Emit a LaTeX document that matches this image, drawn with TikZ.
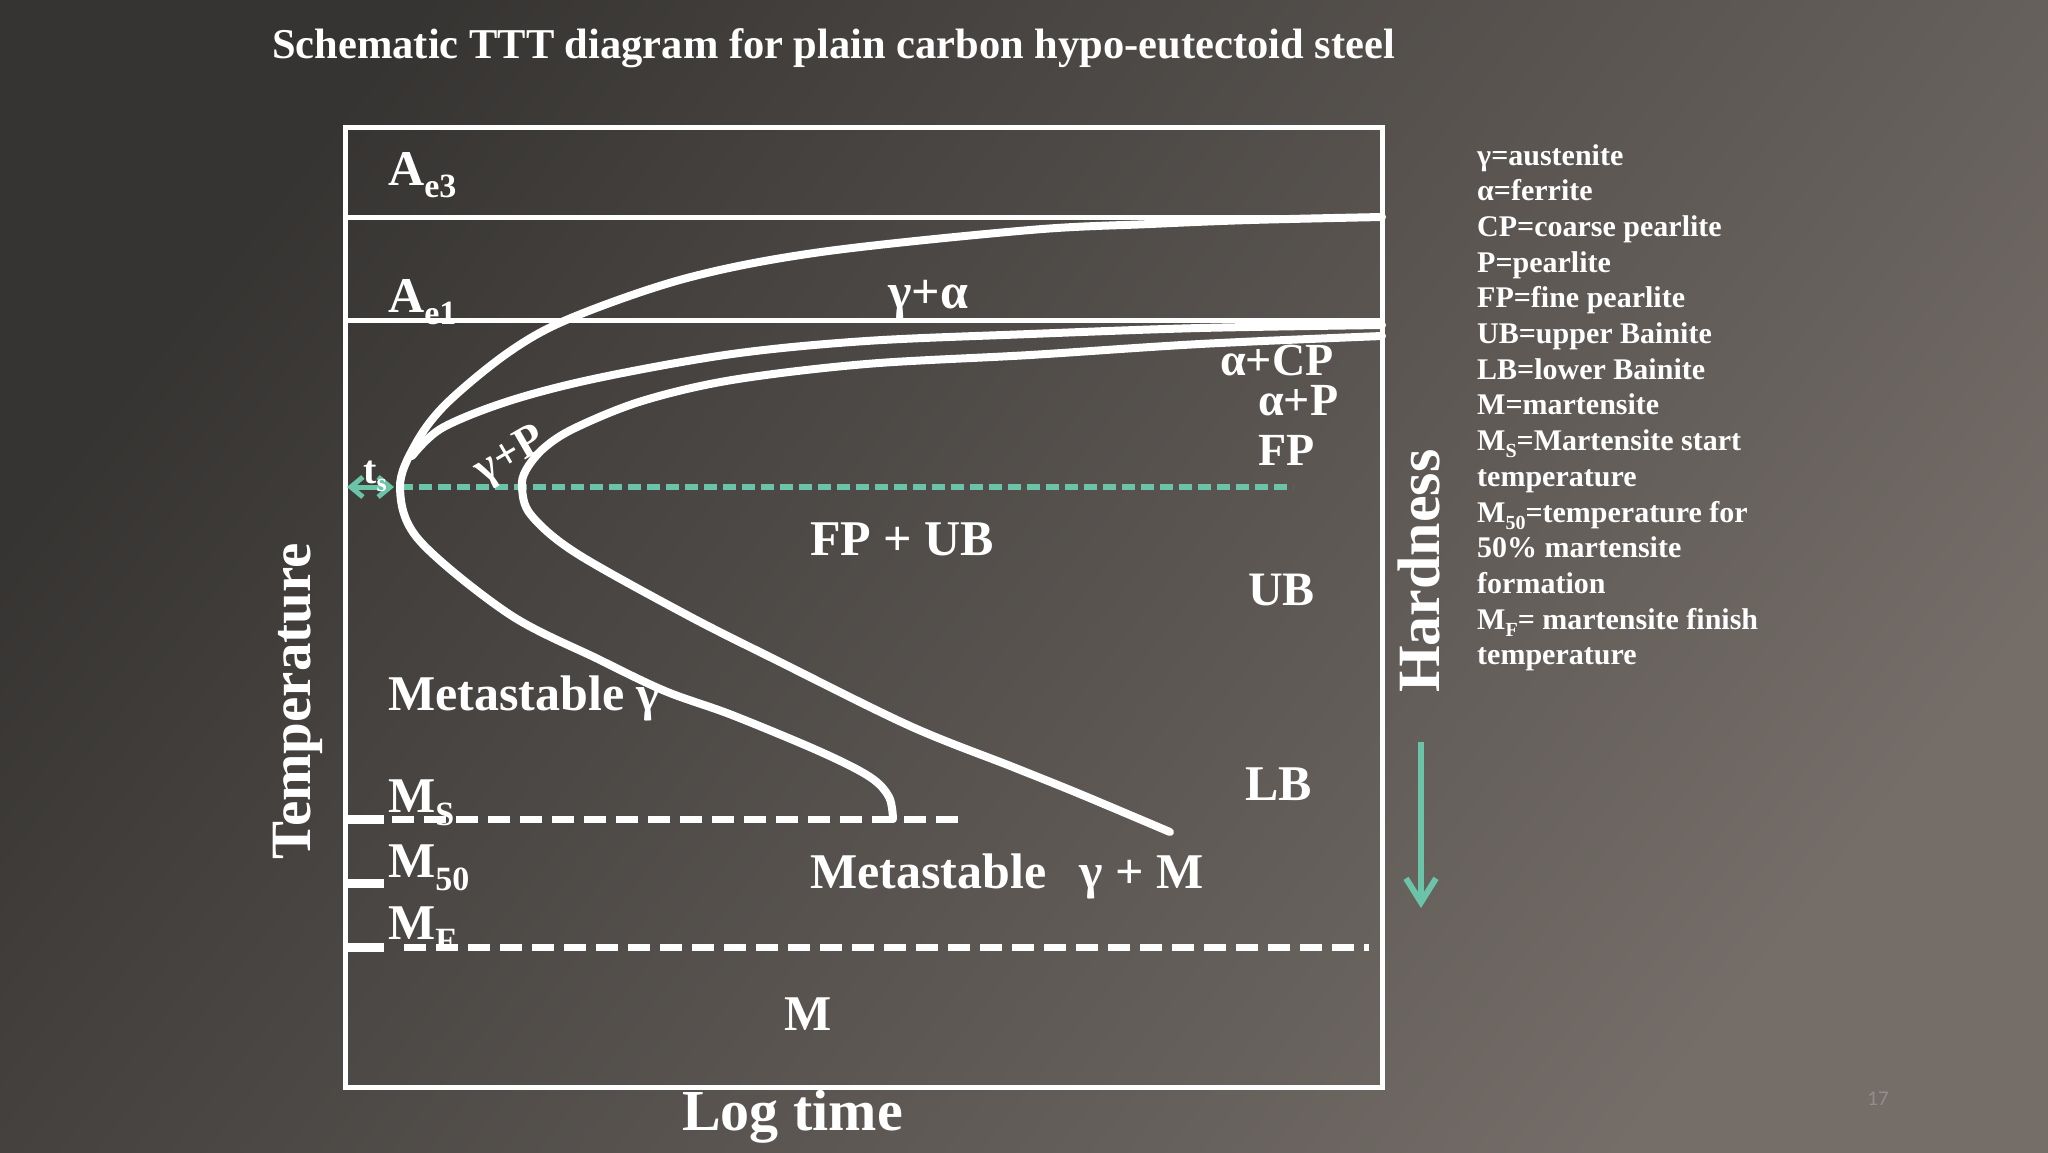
\documentclass[tikz,border=0pt]{standalone}
\usepackage{fontspec}
\setmainfont{Liberation Serif}
\newfontfamily\pgnumfont{Carlito}
\usetikzlibrary{arrows.meta}
\definecolor{bgdark}{HTML}{363432}
\definecolor{bglight}{HTML}{746D68}
\definecolor{tealc}{HTML}{6CC4A8}
\definecolor{pgcol}{HTML}{948E8A}
\newcommand{\fsz}[1]{\fontsize{#1}{#1}\selectfont}
\newcommand{\lowsub}[3]{\raisebox{-#2}{\fsz{#3}#1}}
\tikzset{
  lbl/.style={text=white, font={\bfseries\fsz{50}}, inner sep=0pt, anchor=base west},
  leg/.style={text=white, font={\bfseries\fsz{30}}, inner sep=0pt, anchor=base west},
  curve/.style={white, line width=8pt, line cap=round, line join=round},
  frame/.style={white, line width=5pt},
  tick/.style={white, line width=9pt},
  wdash/.style={white, line width=7pt, dash pattern=on 22pt off 10pt},
  tdash/.style={tealc, line width=5.5pt, dash pattern=on 13pt off 6pt},
}
\begin{document}
\begin{tikzpicture}[x=1pt,y=-1pt]
\useasboundingbox (0,0) rectangle (2048,1152);
\shade[top color=bgdark, bottom color=bglight, shading angle=52] (0,0) rectangle (2048,1152);

% frame and equilibrium lines
\draw[frame] (345,127) rectangle (1382,1087);
\draw[frame] (345,217) -- (1382,217);
\draw[frame] (345,320) -- (1382,320);

% martensite lines
\draw[tick] (345,819) -- (384,819);
\draw[tick] (345,883) -- (384,883);
\draw[tick] (345,947) -- (384,947);
\draw[wdash] (392,819) -- (960,819);
\draw[wdash] (404,947) -- (1369,947);

% teal dashed line and double arrow
\coordinate (ta) at (347,487);
\coordinate (tb) at (394,487);
\coordinate (tc) at (400,487);
\coordinate (td) at (1293,487);
\draw[tdash] (tc) -- (td);
\draw[tealc, line width=5pt, {Straight Barb[length=12pt,width=20pt]}-{Straight Barb[length=12pt,width=20pt]}] (ta) -- (tb);

% curves
\draw[curve] plot[smooth, tension=0.55] coordinates {(1382,217) (1250,220) (1150,224) (1030,230) (821,252) (687,278) (571,318) (509,352) (446,404) (415,445) (400,488) (419,540) (509,614) (598,659) (665,691) (732,715) (821,752) (870,777) (889,797) (893,819)};
\draw[curve] plot[smooth, tension=0.55] coordinates {(1382,325) (1200,328) (1030,334) (866,341) (732,354) (598,378) (509,401) (442,428) (412,456)};
\draw[curve] plot[smooth, tension=0.55] coordinates {(1382,336) (1200,344) (1030,355) (866,364) (732,380) (642,401) (575,428) (544,448) (526,470) (522,488) (531,515) (576,553) (687,615) (776,660) (910,726) (1013,767) (1080,794) (1170,832)};

% hardness arrow
\coordinate (h1) at (1421,742);
\coordinate (h2) at (1421,908);
\draw[tealc, line width=6pt, -{Straight Barb[length=24pt,width=30pt]}] (h1) -- (h2);

% title
\node[lbl, font={\bfseries\fsz{42.5}}] (title) at (272,58) {Schematic TTT diagram for plain carbon hypo-eutectoid steel};

% diagram labels
\node[lbl] (ae3) at (388,185) {A\lowsub{e3}{12pt}{34}};
\node[lbl] (ae1) at (388,312) {A\lowsub{e1}{12pt}{34}};
\node[lbl] (ga) at (888,308) {γ+α};
\node[lbl, font={\bfseries\fsz{46}}] (acp) at (1220,375) {α+CP};
\node[lbl, font={\bfseries\fsz{46}}] (ap) at (1258,415) {α+P};
\node[lbl, font={\bfseries\fsz{46}}] (fp) at (1258,465) {FP};
\node[lbl] (fpub) at (810,555) {FP + UB};
\node[lbl, font={\bfseries\fsz{48}}] (ub) at (1248,605) {UB};
\node[lbl] (mg) at (388,710) {Metastable γ};
\node[lbl] (lb) at (1245,800) {LB};
\node[lbl] (ms) at (388,812) {M\lowsub{S}{13pt}{34}};
\node[lbl] (m50) at (388,877) {M\lowsub{50}{13pt}{34}};
\node[lbl] (mf) at (388,939) {M\lowsub{F}{12pt}{34}};
\node[lbl] (mgm) at (810,888) {Metastable\ \ \,γ + M};
\node[lbl] (mm) at (784,1030) {M};
\node[lbl, font={\bfseries\fsz{40}}] (ts) at (363,483) {t\lowsub{s}{8pt}{26}};
\node[text=white, font={\bfseries\fsz{45}}, inner sep=0pt, rotate=30] (gp) at (511,457) {γ+P};

% axis labels
\node[lbl, font={\bfseries\fsz{58}}] (logt) at (682,1130) {Log time};
\node[lbl, font={\bfseries\fsz{57}}, rotate=90] (temp) at (310,860) {Temperature};
\node[lbl, font={\bfseries\fsz{60}}, rotate=90] (hard) at (1439,693) {Hardness};

% legend
\node[leg] (l1) at (1477,165.0) {γ=austenite};
\node[leg] (l2) at (1477,200.7) {α=ferrite};
\node[leg] (l3) at (1477,236.4) {CP=coarse pearlite};
\node[leg] (l4) at (1477,272.1) {P=pearlite};
\node[leg] (l5) at (1477,307.8) {FP=fine pearlite};
\node[leg] (l6) at (1477,343.5) {UB=upper Bainite};
\node[leg] (l7) at (1477,379.2) {LB=lower Bainite};
\node[leg] (l8) at (1477,414.9) {M=martensite};
\node[leg] (l9) at (1477,450.6) {M\lowsub{S}{7pt}{20}=Martensite start};
\node[leg] (l10) at (1477,486.3) {temperature};
\node[leg] (l11) at (1477,522.0) {M\lowsub{50}{7pt}{20}=temperature for};
\node[leg] (l12) at (1477,557.7) {50\% martensite};
\node[leg] (l13) at (1477,593.4) {formation};
\node[leg] (l14) at (1477,629.1) {M\lowsub{F}{7pt}{20}= martensite finish};
\node[leg] (l15) at (1477,664.8) {temperature};

% page number
\node[text=pgcol, font={\pgnumfont\fsz{21}}, inner sep=0pt] (pg) at (1878,1099) {17};
\end{tikzpicture}
\end{document}
